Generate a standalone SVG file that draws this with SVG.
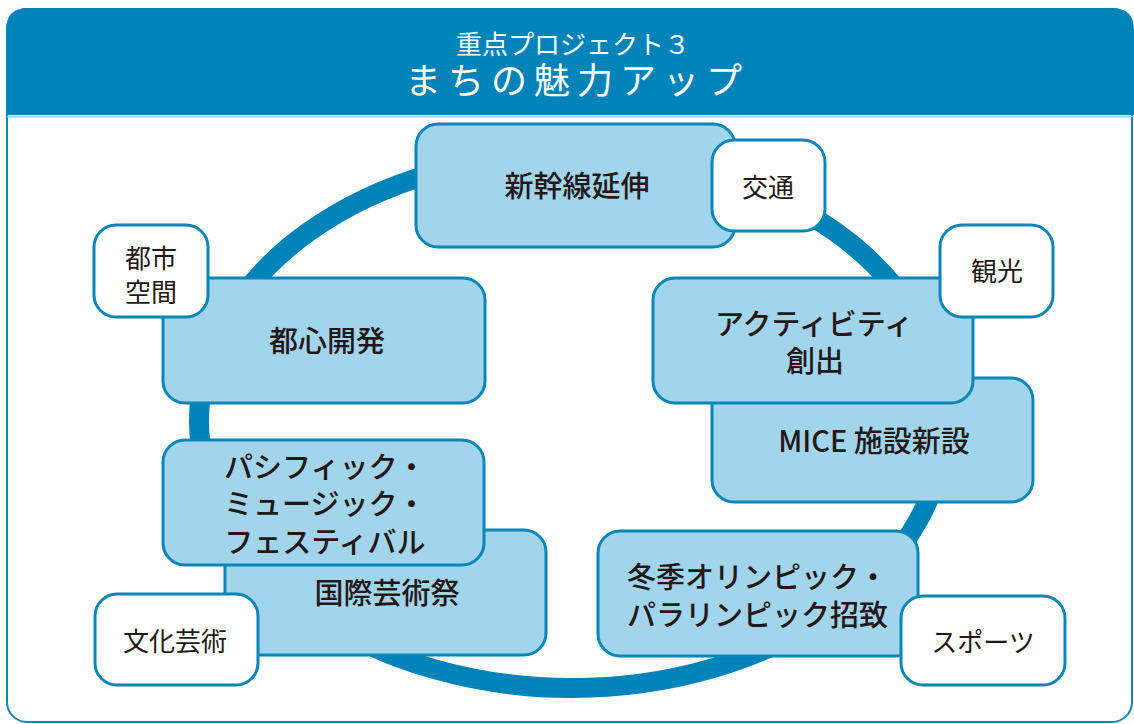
<svg xmlns="http://www.w3.org/2000/svg" width="1134" height="724" viewBox="0 0 1134 724">
<style>
text{font-family:"Noto Sans CJK JP","Noto Sans",sans-serif;fill:#231815;text-anchor:middle;dominant-baseline:central}
.b rect{fill:#A2D5EC;stroke:#0A86B9;stroke-width:3}
.w rect{fill:#FFFFFF;stroke:#0A86B9;stroke-width:3}
.b text{font-size:29px;font-weight:500}
.w text{font-size:26px}
.h{fill:#FFFFFF}
</style>
<rect x="7" y="9" width="1125" height="713" rx="20" fill="#FFFFFF" stroke="#0A86B9" stroke-width="2"/>
<path d="M6,115 V30 Q6,8 28,8 H1112 Q1134,8 1134,30 V115 Z" fill="#0083B8"/>
<line x1="7" y1="116.5" x2="1134" y2="116.5" stroke="#8ACBE6" stroke-width="1.5"/>
<g id="title">
<text class="h" x="573" y="42" style="font-size:26px">重点プロジェクト３</text>
<text class="h" x="577" y="78" style="font-size:36px;letter-spacing:7px">まちの魅力アップ</text>
</g>
<g id="connectors">
<ellipse cx="572" cy="421" rx="373" ry="267" fill="none" stroke="#0083B8" stroke-width="20"/>
</g>
<g id="n-shinkansen" class="b"><rect x="416" y="124" width="319" height="123" rx="22"/><text x="577" y="184">新幹線延伸</text></g>
<g id="n-toshin" class="b"><rect x="163" y="278" width="322" height="125" rx="22"/><text x="327" y="339">都心開発</text></g>
<g id="n-mice" class="b"><rect x="712" y="378" width="321" height="124" rx="22"/><text x="874" y="439">MICE 施設新設</text></g>
<g id="n-activity" class="b"><rect x="653" y="278" width="320" height="125" rx="22"/><text x="814" y="322">アクティビティ</text><text x="815" y="359">創出</text></g>
<g id="n-kokusai" class="b"><rect x="225" y="530" width="321" height="125" rx="22"/><text x="387" y="591">国際芸術祭</text></g>
<g id="n-pmf" class="b"><rect x="163" y="440" width="321" height="125" rx="22"/><text x="325" y="465">パシフィック・</text><text x="325" y="502">ミュージック・</text><text x="325" y="540">フェスティバル</text></g>
<g id="n-olympic" class="b"><rect x="598" y="531" width="320" height="125" rx="22"/><text x="627" y="575" style="text-anchor:start">冬季オリンピック・</text><text x="627" y="613" style="text-anchor:start">パラリンピック招致</text></g>
<g id="t-kotsu" class="w"><rect x="712" y="140" width="113" height="91" rx="22"/><text x="768" y="185">交通</text></g>
<g id="t-toshikukan" class="w"><rect x="94" y="225" width="114" height="92" rx="22"/><text x="151" y="256">都市</text><text x="151" y="290">空間</text></g>
<g id="t-kanko" class="w"><rect x="940" y="225" width="113" height="92" rx="22"/><text x="997" y="269">観光</text></g>
<g id="t-bunka" class="w"><rect x="95" y="594" width="163" height="91" rx="22"/><text x="175" y="639">文化芸術</text></g>
<g id="t-sports" class="w"><rect x="901" y="596" width="164" height="89" rx="22"/><text x="983" y="640">スポーツ</text></g>
</svg>
